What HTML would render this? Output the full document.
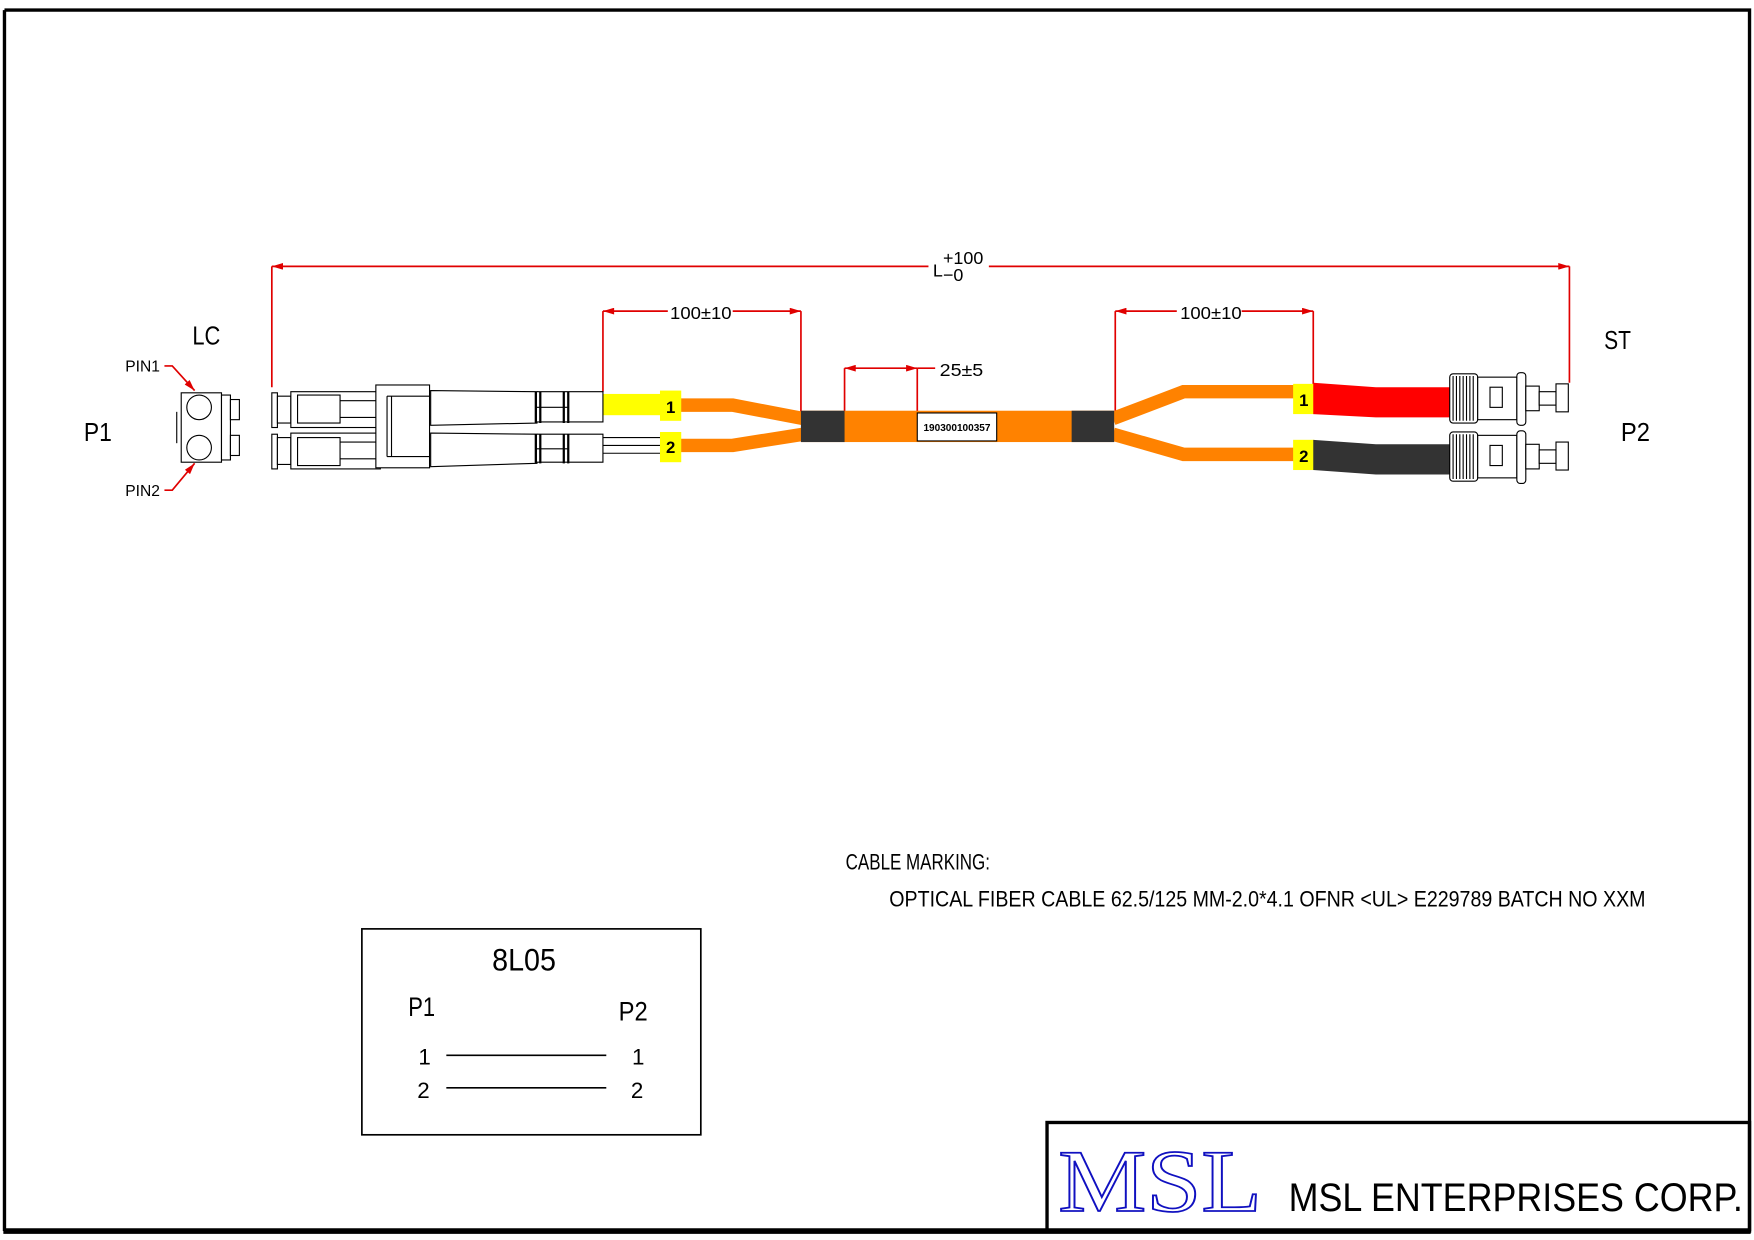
<!DOCTYPE html>
<html><head><meta charset="utf-8"><style>
html,body{margin:0;padding:0;background:#fff;}
svg{display:block;}
text{font-family:"Liberation Sans",sans-serif;}
</style></head><body>
<svg width="1754" height="1240" viewBox="0 0 1568 1108" preserveAspectRatio="none" xmlns="http://www.w3.org/2000/svg">
<defs>
<marker id="ar" viewBox="0 0 10 6" refX="10" refY="3" markerWidth="16" markerHeight="6" markerUnits="userSpaceOnUse" orient="auto-start-reverse"><path d="M0,0 L10,3 L0,6 z" fill="#e00000"/></marker>
</defs>
<rect x="0" y="0" width="1568" height="1108" fill="#fff"/>
<path d="M4,9 H1564 V1100 M4,9 V1100" fill="none" stroke="#000" stroke-width="3"/>
<line x1="3" y1="1100" x2="1565" y2="1100" stroke="#000" stroke-width="5"/>
<rect x="936" y="1003" width="628" height="97" fill="none" stroke="#000" stroke-width="3"/>
<text x="946" y="1082" style="font-family:'Liberation Serif',serif" font-size="80" fill="#fff" stroke="#1010c0" stroke-width="1.6" textLength="182" lengthAdjust="spacingAndGlyphs">MSL</text>
<text x="1152" y="1082" font-size="36" fill="#000" textLength="406" lengthAdjust="spacingAndGlyphs">MSL  ENTERPRISES  CORP.</text>

<rect x="323.5" y="830" width="303" height="184" fill="none" stroke="#000" stroke-width="1.5"/>
<text x="440" y="867" font-size="28" textLength="57" lengthAdjust="spacingAndGlyphs">8L05</text>
<text x="365" y="908" font-size="24" textLength="24" lengthAdjust="spacingAndGlyphs">P1</text>
<text x="553" y="912" font-size="24" textLength="26" lengthAdjust="spacingAndGlyphs">P2</text>
<text x="374" y="951" font-size="20">1</text><text x="565" y="951" font-size="20">1</text>
<text x="373" y="981" font-size="20">2</text><text x="564" y="981" font-size="20">2</text>
<line x1="399" y1="943" x2="542" y2="943" stroke="#000" stroke-width="1.5"/>
<line x1="399" y1="972" x2="542" y2="972" stroke="#000" stroke-width="1.5"/>

<text x="756" y="777" font-size="20" textLength="129" lengthAdjust="spacingAndGlyphs">CABLE MARKING:</text>
<text x="795" y="810" font-size="20" textLength="676" lengthAdjust="spacingAndGlyphs">OPTICAL FIBER CABLE 62.5/125 MM-2.0*4.1 OFNR &lt;UL&gt; E229789 BATCH NO XXM</text>

<text x="172" y="308" font-size="23" textLength="25" lengthAdjust="spacingAndGlyphs">LC</text>
<text x="1434" y="312" font-size="23" textLength="24" lengthAdjust="spacingAndGlyphs">ST</text>
<text x="75" y="394" font-size="23" textLength="25" lengthAdjust="spacingAndGlyphs">P1</text>
<text x="1449" y="394" font-size="23" textLength="26" lengthAdjust="spacingAndGlyphs">P2</text>
<text x="112" y="332" font-size="14" textLength="31" lengthAdjust="spacingAndGlyphs">PIN1</text>
<text x="112" y="443" font-size="14" textLength="31" lengthAdjust="spacingAndGlyphs">PIN2</text>
<g stroke="#e00000" stroke-width="1.5" fill="none">
<path d="M147,327 H154 L174,349" marker-end="url(#ar)"/>
<path d="M147,438 H154 L174,414" marker-end="url(#ar)"/>
<line x1="243" y1="238" x2="830" y2="238" marker-start="url(#ar)"/>
<line x1="884" y1="238" x2="1403" y2="238" marker-end="url(#ar)"/>
<line x1="243" y1="238" x2="243" y2="346"/>
<line x1="1403" y1="238" x2="1403" y2="342"/>
<line x1="539" y1="278" x2="597" y2="278" marker-start="url(#ar)"/>
<line x1="655" y1="278" x2="716" y2="278" marker-end="url(#ar)"/>
<line x1="539" y1="278" x2="539" y2="350"/>
<line x1="716" y1="278" x2="716" y2="368"/>
<line x1="755" y1="329" x2="820" y2="329" marker-start="url(#ar)" marker-end="url(#ar)"/>
<line x1="820" y1="329" x2="836" y2="329"/>
<line x1="755" y1="329" x2="755" y2="368"/>
<line x1="820" y1="329" x2="820" y2="368"/>
<line x1="997" y1="278" x2="1052" y2="278" marker-start="url(#ar)"/>
<line x1="1110" y1="278" x2="1174" y2="278" marker-end="url(#ar)"/>
<line x1="997" y1="278" x2="997" y2="368"/>
<line x1="1174" y1="278" x2="1174" y2="345"/>
</g>
<text x="834" y="247" font-size="16">L</text>
<text x="843" y="236" font-size="16">+100</text>
<text x="843" y="251" font-size="16">−0</text>
<text x="599" y="285" font-size="16" textLength="55" lengthAdjust="spacingAndGlyphs">100±10</text>
<text x="1055" y="285" font-size="16" textLength="55" lengthAdjust="spacingAndGlyphs">100±10</text>
<text x="840" y="336" font-size="16" textLength="39" lengthAdjust="spacingAndGlyphs">25±5</text>

<g stroke="#ff8200" stroke-width="12" fill="none" stroke-linejoin="miter">
<path d="M608,362 H655 L718,374"/>
<path d="M608,398 H655 L718,388"/>
<path d="M995,374 L1058,350 H1158"/>
<path d="M995,388 L1058,406 H1158"/>
</g>
<rect x="716" y="367" width="280" height="28" fill="#ff8200"/>
<rect x="716" y="367" width="39" height="28" fill="#333"/>
<rect x="958" y="367" width="38" height="28" fill="#333"/>
<rect x="820" y="369" width="71" height="25" fill="#fff" stroke="#000" stroke-width="1"/>
<text x="855.5" y="385" font-size="9" font-weight="bold" text-anchor="middle">190300100357</text>
<rect x="539" y="352" width="52" height="19" fill="#ffff00"/>
<line x1="539" y1="398" x2="591" y2="398" stroke="#000" stroke-width="1"/>
<line x1="539" y1="391" x2="591" y2="391" stroke="#000" stroke-width="1"/>
<line x1="539" y1="405" x2="591" y2="405" stroke="#000" stroke-width="1"/>
<rect x="590" y="349" width="19" height="27" fill="#ffff00"/>
<rect x="590" y="386" width="19" height="27" fill="#ffff00"/>
<rect x="1156" y="343" width="19" height="27" fill="#ffff00"/>
<rect x="1156" y="393" width="19" height="27" fill="#ffff00"/>
<g font-size="15" font-weight="bold" text-anchor="middle">
<text x="599.5" y="369">1</text><text x="599.5" y="405">2</text>
<text x="1165.5" y="363">1</text><text x="1165.5" y="413">2</text>
</g>
<path d="M1174,342 L1230,346 H1296 V373 H1230 L1174,370 z" fill="#f00"/>
<path d="M1174,393 L1230,397 H1296 V424 H1230 L1174,420 z" fill="#333"/>

<g fill="#fff" stroke="#000" stroke-width="1">
<g id="st">
<rect x="1296" y="334" width="25" height="44" rx="3"/>
<path d="M1299,336 V376 M1302,336 V376 M1305,336 V376 M1308,336 V376 M1311,336 V376 M1314,336 V376 M1317,336 V376"/>
<rect x="1321" y="337" width="35" height="38"/>
<rect x="1332" y="346" width="11" height="18"/>
<rect x="1356" y="333" width="8" height="47" rx="3"/>
<rect x="1364" y="345" width="12" height="22"/>
<rect x="1376" y="350" width="15" height="12"/>
<rect x="1391" y="343" width="11" height="25"/>
</g>
<use href="#st" y="52"/>
</g>

<g fill="#fff" stroke="#000" stroke-width="1">
<rect x="243" y="351" width="5" height="31"/>
<rect x="243" y="388" width="5" height="31"/>
<rect x="248" y="354" width="12" height="24"/>
<rect x="248" y="391" width="12" height="24"/>
<rect x="260" y="350" width="80" height="32"/>
<rect x="260" y="387" width="80" height="32"/>
<rect x="266" y="353" width="38" height="25"/>
<rect x="266" y="391" width="38" height="25"/>
<path d="M304,358 H340 M304,373 H340 M304,395 H340 M304,410 H340"/>
<path d="M385,349 L480,350 V378 L385,380 z"/>
<path d="M385,387 L480,388 V414 L385,417 z"/>
<path d="M480,350 H539 V377 H480 M480,388 H539 V413 H480"/>
<rect x="336" y="344" width="48" height="74"/>
<path d="M346,354 V408 M350,354 V408 M346,354 H384 M346,408 H384"/>
<path d="M479,350 V378 M483,350 V378 M504,350 V378 M508,350 V378 M479,388 V414 M483,388 V414 M504,388 V414 M508,388 V414" stroke-width="2"/>
<path d="M480,364 H508 M480,401 H508"/>
<rect x="162" y="351" width="36" height="62"/>
<circle cx="178" cy="364" r="11"/>
<circle cx="178" cy="400" r="11"/>
<rect x="198" y="353" width="8" height="58"/>
<rect x="206" y="357" width="8" height="18"/>
<rect x="206" y="389" width="8" height="18"/>
<line x1="158" y1="368" x2="158" y2="396"/>
</g>
</svg>
</body></html>
